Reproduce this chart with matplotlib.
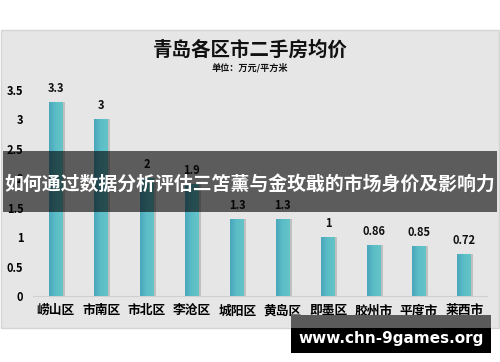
import matplotlib
matplotlib.use("Agg")
import matplotlib.pyplot as plt
import numpy as np
from matplotlib.patches import Rectangle
from matplotlib.colors import LinearSegmentedColormap

plt.rcParams['font.family'] = ['Noto Sans CJK SC', 'DejaVu Sans']

districts = ['崂山区', '市南区', '市北区', '李沧区', '城阳区', '黄岛区', '即墨区', '胶州市', '平度市', '莱西市']
prices = [3.3, 3.0, 2.0, 1.9, 1.3, 1.3, 1.0, 0.86, 0.85, 0.72]
price_labels = ['3.3', '3', '2', '1.9', '1.3', '1.3', '1', '0.86', '0.85', '0.72']
yticks = [0, 0.5, 1, 1.5, 2, 2.5, 3, 3.5]
ytick_labels = ['0', '0.5', '1', '1.5', '2', '2.5', '3', '3.5']
title = '青岛各区市二手房均价'
subtitle = '单位：万元/平方米'
banner = '如何通过数据分析评估三笘薰与金玫戢的市场身价及影响力'
watermark = 'www.chn-9games.org'

W, H = 500, 362
fig = plt.figure(figsize=(W/100, H/100), dpi=100)
fig.patch.set_facecolor('white')

def fx(px): return px / W
def fy(py): return 1 - py / H

# panel
fig.patches.append(Rectangle((fx(0.5), fy(328)), fx(498), (328-30)/H, transform=fig.transFigure,
                             facecolor='#e6e6e6', edgecolor='#d4d4d4', lw=1, zorder=-5))

ax = fig.add_axes([fx(33), fy(296), fx(487-33), (296-90)/H])
ax.set_zorder(1)
ax.set_facecolor('none')
x = np.arange(len(districts))
bw = 0.3

# shadow
ax.bar(x + 0.05, prices, width=bw, color='#a8a8a8', alpha=0.6, zorder=1)
bars = ax.bar(x, prices, width=bw, color='#5bbcc5', zorder=2)
cmap = LinearSegmentedColormap.from_list('g', ['#4aa6bb', '#5cbec6', '#64c4c8'])
grad = np.linspace(0, 1, 64).reshape(1, -1)
for b in bars:
    x0 = b.get_x(); w = b.get_width(); h = b.get_height()
    im = ax.imshow(grad, cmap=cmap, aspect='auto', extent=[x0, x0+w, 0, h], zorder=3)
    im.set_clip_path(b)
    b.set_facecolor('none')
ax.set_xlim(-0.5, len(districts)-0.5)
ax.set_ylim(0, 3.5)

for xi, v, lab in zip(x, prices, price_labels):
    ax.text(xi, v + 0.12, lab, ha='center', va='bottom', fontsize=8, fontweight='bold', color='#111111', zorder=5)

ax.set_yticks(yticks)
ax.set_yticklabels(ytick_labels, fontsize=8, fontweight='bold')
ax.set_xticks(x)
ax.set_xticklabels(districts, fontsize=9.2, fontweight='bold')
ax.tick_params(length=0)
ax.tick_params(axis='y', pad=7)
ax.tick_params(axis='x', pad=6)
for s in ['top', 'right', 'left']:
    ax.spines[s].set_visible(False)
ax.spines['bottom'].set_color('#d0d0d0')

fig.text(0.5, fy(50), title, ha='center', va='center', fontsize=14, fontweight='black', color='#111111')
fig.text(0.5, fy(68), subtitle, ha='center', va='center', fontsize=6.6, fontweight='black', color='#111111')

# overlay axes for banner and watermark
ov = fig.add_axes([0, 0, 1, 1])
ov.set_zorder(5)
ov.set_facecolor('none')
ov.set_axis_off()
ov.set_xlim(0, W)
ov.set_ylim(H, 0)
ov.add_patch(Rectangle((3, 151), 494, 61, facecolor='black', alpha=0.6, edgecolor='none'))
ov.text(250, 184, banner, ha='center', va='center', fontsize=13.6, fontweight='bold', color='white')

ov.add_patch(Rectangle((291, 315), 200, 13, facecolor='#5a5a5a', edgecolor='none'))
ov.add_patch(Rectangle((291, 328), 200, 25, facecolor='black', edgecolor='none'))
ov.text(391, 338, watermark, ha='center', va='center', fontsize=11, fontweight='bold',
        color='white', family='DejaVu Sans')

fig.savefig('out.png', dpi=100)
